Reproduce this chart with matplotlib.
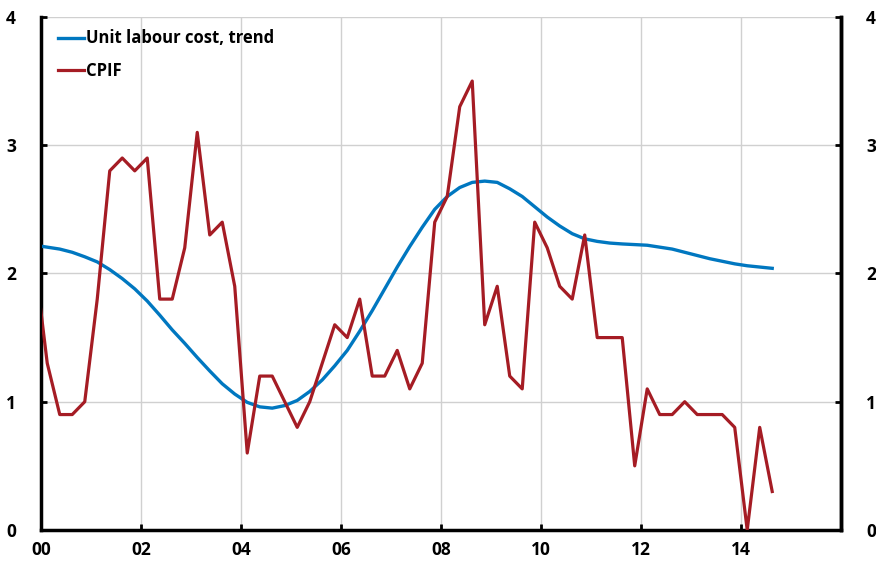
import numpy as np
import matplotlib.pyplot as plt

# quarterly data, plotted at mid-quarter; first point is 1999 Q4
quarters = 1999.875 + 0.25 * np.arange(60)

cpif = [2.1,
        1.3, 0.9, 0.9, 1.0, 1.8, 2.8, 2.9, 2.8, 2.9, 1.8,
        1.8, 2.2, 3.1, 2.3, 2.4, 1.9, 0.6, 1.2, 1.2, 1.0,
        0.8, 1.0, 1.3, 1.6, 1.5, 1.8, 1.2, 1.2, 1.4, 1.1,
        1.3, 2.4, 2.6, 3.3, 3.5, 1.6, 1.9, 1.2, 1.1, 2.4,
        2.2, 1.9, 1.8, 2.3, 1.5, 1.5, 1.5, 0.5, 1.1, 0.9,
        0.9, 1.0, 0.9, 0.9, 0.9, 0.8, 0.0, 0.8, 0.3]

ulc_trend = [2.22,
             2.205, 2.19, 2.165, 2.13, 2.09, 2.03, 1.96, 1.88, 1.785, 1.675,
             1.56, 1.455, 1.345, 1.24, 1.14, 1.06, 0.995, 0.96, 0.95, 0.97,
             1.01, 1.08, 1.17, 1.28, 1.40, 1.55, 1.71, 1.88, 2.05, 2.21,
             2.36, 2.50, 2.60, 2.67, 2.71, 2.72, 2.71, 2.66, 2.60, 2.52,
             2.44, 2.37, 2.31, 2.27, 2.25, 2.237, 2.23, 2.225, 2.22, 2.205,
             2.19, 2.165, 2.14, 2.115, 2.095, 2.075, 2.06, 2.05, 2.04]

xticks = list(range(2000, 2015, 2))
xlabels = ['00', '02', '04', '06', '08', '10', '12', '14']
yticks = [0, 1, 2, 3, 4]

blue = '#0077c0'
red = '#a51c24'

plt.rcParams['font.family'] = ['Open Sans', 'DejaVu Sans']
plt.rcParams['font.weight'] = 'bold'

fig = plt.figure(figsize=(8.76, 5.64), dpi=100)
ax = fig.add_axes([0.0468, 0.0603, 0.9132, 0.9097])

ax.plot(quarters, ulc_trend, color=blue, lw=2.4, label='Unit labour cost, trend',
        zorder=3, solid_joinstyle='round')
ax.plot(quarters, cpif, color=red, lw=2.3, label='CPIF', zorder=3)

ax.set_xlim(2000, 2016)
ax.set_ylim(0, 4)
ax.set_xticks(xticks)
ax.set_xticklabels(xlabels)
ax.set_yticks(yticks)
ax.set_xticks([2016], minor=True)

ax.grid(True, which='both', color='#d0d0d0', lw=1)
ax.set_axisbelow(True)

for s in ['left', 'bottom', 'right']:
    ax.spines[s].set_linewidth(2.5)
    ax.spines[s].set_color('black')
ax.spines['top'].set_visible(False)

ax.tick_params(axis='x', which='major', direction='in', length=4, width=2,
               pad=8, labelsize=12.5)
ax.tick_params(axis='x', which='minor', length=0)
ax.tick_params(axis='y', direction='in', length=4, width=2, pad=18, labelsize=12.5)

ax2 = ax.twinx()
ax2.set_ylim(0, 4)
ax2.set_yticks(yticks)
ax2.spines['top'].set_visible(False)
ax2.spines['right'].set_linewidth(2.5)
ax2.tick_params(axis='y', direction='in', length=4, width=2, pad=18, labelsize=12.5)

leg = ax.legend(loc='upper left', frameon=False, fontsize=12, handlelength=1.6,
                handletextpad=0.1, labelspacing=0.85, borderaxespad=0.6,
                bbox_to_anchor=(0.0, 1.008))
for t in leg.get_texts():
    t.set_fontweight('bold')

fig.savefig('out.png', dpi=100)
